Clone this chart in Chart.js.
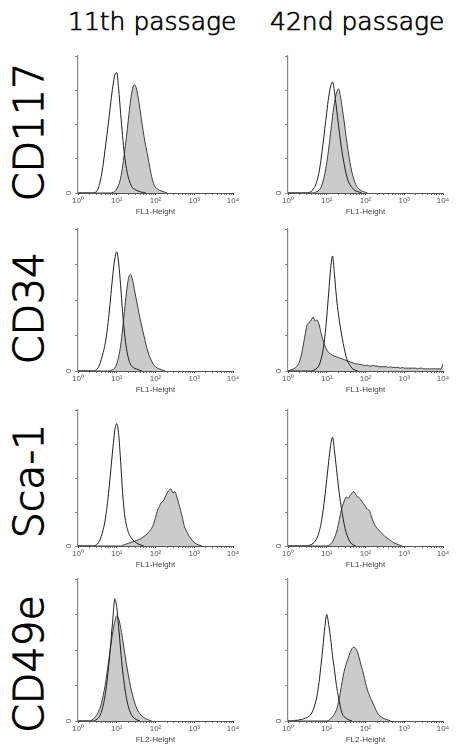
<!DOCTYPE html>
<html lang="en">
<head>
<meta charset="UTF-8">
<title>Flow cytometry - 11th vs 42nd passage</title>
<script src="https://cdn.jsdelivr.net/npm/chart.js"></script>
<style>
    body {
        margin: 0;
        background: #fff;
        width: 461px;
        height: 746px;
        position: relative;
        overflow: hidden;
        font-family: "DejaVu Sans", sans-serif;
    }
    .col-title {
        position: absolute;
        top: 9px;
        font-size: 25px;
        font-weight: 200;
        line-height: 1;
        color: #000;
        -webkit-text-stroke: 0.7px #000;
        white-space: nowrap;
    }
    .row-label {
        position: absolute;
        font-size: 41px;
        font-weight: 200;
        line-height: 1;
        color: #000;
        -webkit-text-stroke: 1.1px #000;
        white-space: nowrap;
        transform: translate(-50%, -50%) rotate(-90deg);
    }
    canvas { position: absolute; }
</style>
</head>
<body>
<script>
// fluorescence channels, 20 per decade (10^0 .. 10^4)
const CHANNELS = [
    1, 1.12, 1.26, 1.41, 1.58, 1.78, 2, 2.24, 2.51, 2.82, 3.16, 3.55, 3.98, 4.47, 5.01, 5.62, 6.31, 7.08, 7.94, 8.91,
    10, 11.2, 12.6, 14.1, 15.8, 17.8, 20, 22.4, 25.1, 28.2, 31.6, 35.5, 39.8, 44.7, 50.1, 56.2, 63.1, 70.8, 79.4, 89.1,
    100, 112, 126, 141, 158, 178, 200, 224, 251, 282, 316, 355, 398, 447, 501, 562, 631, 708, 794, 891,
    1000, 1122, 1259, 1413, 1585, 1778, 1995, 2239, 2512, 2818, 3162, 3548, 3981, 4467, 5012, 5623, 6310, 7079, 7943, 8913,
    10000
];
const DECADES = [1, 10, 100, 1000, 10000];
const DECADE_LABELS = ['10\u2070', '10\u00b9', '10\u00b2', '10\u00b3', '10\u2074'];
const PASSAGES = ['11th passage', '42nd passage'];
const MARKERS = ['CD117', 'CD34', 'Sca-1', 'CD49e'];
const X_TITLES = ['FL1-Height', 'FL1-Height', 'FL1-Height', 'FL2-Height'];

// counts (% of axis height) per channel; unfilled = control, filled = stained
const cd117_p11_control = [0,0,0,0,0,0,0,0,0,0.5, 2,6,12,21,32,43,55,67,78,86, 88,76,58,42,28,18,11,7,4,3, 2,1.5,1,0.5,0.5,0];
const cd117_p11_stained = [0,0,0,0,0,0,0,0,0,0, 0,0,0,0,0,0,0,0,0.5,1, 3,6,11,19,29,41,54,66,75,79, 77,70,61,51,42,34,27,19,12,7, 4,3,2,1.5,1,0.5,0];
const cd117_p42_control = [0,0,0,0,0,0,0,0,0,0, 0,0.5,1,3,5,9,15,24,35,47, 59,70,78,81,74,62,50,39,29,21, 14,9,6,4,2.5,1.5,1,0.5,0];
const cd117_p42_stained = [0,0,0,0,0,0,0,0,0,0, 0,0,0,0,0.5,1,2,4,8,14, 22,32,44,56,66,73,76,71,62,52, 41,31,22,15,10,6,4,2.5,1.5,1, 0.5,0];

const cd34_p11_control = [0,0,0,0,0,0,0,0,0,0.5, 1.5,4,8,13,19,28,40,54,68,79, 84,76,60,42,27,16,9,5,3,2, 1.5,1,0.5,0];
const cd34_p11_stained = [0,0,0,0,0,0,0,0,0,0, 0,0,0,0,0,0,0,0.5,1,2, 5,10,18,29,42,55,65,68,65,58, 51,44,37,31,25,19,14,10,7,4.5, 3,2,1.5,1,0.5,0];
const cd34_p42_control = [0,0,0,0,0,0,0,0,0,0, 0,0,0,0.5,1,2,4,8,14,24, 38,55,72,81,68,52,40,31,23,16, 10,6,4,2,1,0.5,0];
const cd34_p42_stained = [0,0.5,1,1.5,2.5,4,7,12,19,27, 33,34,36,38,35,36,33,27,22,18, 15,13,12,11,10.5,10,9.5,9,8.5,8,
    7.5,7,6.5,6,5.5,5,5,4.5,4.5,4, 4,4,3.5,3.5,4,3.5,3.5,3,3,3, 3,3,2.5,3,2.5,2.5,2.5,2.5,2,2.5,
    2,2,2,2,2,2,2,1.5,2,2, 1.5,1.5,1.5,1.5,1.5,1.5,1.5,1.5,1.5,1.5, 5];

const sca1_p11_control = [0,0,0,0,0,0,0,0,0,0.5, 1.5,3.5,7,12,19,29,42,57,72,85, 90,82,62,40,24,15,10,7,5,3.5, 2.5,1.5,1,0.5,0];
const sca1_p11_stained = [0,0,0,0,0,0,0,0,0,0, 0,0,0,0,0,0,0,0,0,0, 0,0,0,0.5,1,1.5,2,2.5,3,3.5,
    4,4.5,5,6,7,8,9.5,11,13,16, 21,26,29,32,33,36,39,41,42,39, 40,36,31,26,20,14,11,8,6,4, 2.5,1.5,1,0.5,0];
const sca1_p42_control = [0,0,0,0,0,0,0,0,0,0, 0,0.5,1,2,3.5,6,10,16,25,36, 49,62,74,80,70,57,44,33,24,16, 10,6,3,1.5,0.5,0];
const sca1_p42_stained = [0,0,0,0,0,0,0,0,0,0, 0,0,0,0,0,0,0,0,0,0, 0,0.5,1.5,3,6,10,16,23,29,33,
    36,35,37,39,40,38,36,35,33,31, 29,27,26,22,18,15,13,11.5,10,8.5, 7,6,5,4,3,2,1.5,1,0.5,0];

const cd49e_p11_control = [0,0,0,0,0,0,0,0,0,0.5, 1.5,3,6,11,18,28,41,56,72,86, 80,66,50,36,25,16,10,6,3.5,2, 1,0.5,0];
const cd49e_p11_stained = [0,0,0,0,0,0,0,0.5,1.5,3, 5,8,12,18,25,34,44,54,63,70, 74,72,66,58,49,40,32,25,19,14, 10,7,5,3.5,2.5,1.5,1,0.5,0];
const cd49e_p42_control = [0,0,0,0,0.5,0.5,1,1,1.5,2, 2.5,3.5,5,8,12,18,27,39,52,66, 75,68,58,46,36,25,17,10,5,3, 2,1,0.5,0];
const cd49e_p42_stained = [0,0,0,0,0,0,0,0,0,0, 0,0,0,0,0,0,0,0,0,0, 0,0.5,1.5,3,5,8,13,20,28,35,
    40,44,48,51,52,51,48,43,38,33, 27,22,18,15,12,9,6,4,3,2, 1.5,1,0.5,0];

const PANELS = [
    [cd117_p11_control, cd117_p11_stained, cd117_p42_control, cd117_p42_stained],
    [cd34_p11_control, cd34_p11_stained, cd34_p42_control, cd34_p42_stained],
    [sca1_p11_control, sca1_p11_stained, sca1_p42_control, sca1_p42_stained],
    [cd49e_p11_control, cd49e_p11_stained, cd49e_p42_control, cd49e_p42_stained]
];

// page layout (pixels): x of 10^0 / 10^4 per column, top / baseline per row
const COL_X = [[78, 233], [288, 443]];
const ROW_Y = [[56, 193], [229, 371], [410, 546], [579, 721]];
const TITLE_LEFT = [68, 270];
const LABEL_Y = [132, 308, 481, 664];
const Y_AXIS_W = 24, X_AXIS_H = 24, PAD_TOP = 10, PAD_RIGHT = 14;

const FILL_GRAY = '#cbcbcb';
const tickFont = { family: '"Liberation Sans", Arial, sans-serif', size: 8 };

const X_TICKS = [];
DECADES.forEach(d => {
    if (d === 10000) { X_TICKS.push(d); return; }
    for (let k = 1; k <= 9; k++) X_TICKS.push(k * d);
});

// rotated "0" next to the y axis
const zeroLabel = {
    id: 'zeroLabel',
    afterDraw(chart) {
        const ctx = chart.ctx;
        const y = chart.scales.y.getPixelForValue(0);
        ctx.save();
        ctx.translate(chart.chartArea.left - 9, y);
        ctx.rotate(-Math.PI / 2);
        ctx.font = '8px "Liberation Sans", Arial, sans-serif';
        ctx.fillStyle = '#555';
        ctx.textAlign = 'center';
        ctx.textBaseline = 'middle';
        ctx.fillText('0', 0, 0);
        ctx.restore();
    }
};

function toPoints(counts) {
    return counts.map((c, i) => ({ x: CHANNELS[i], y: c }));
}

function makePanel(row, col) {
    const [x0, x4] = COL_X[col];
    const [top, base] = ROW_Y[row];
    const canvas = document.createElement('canvas');
    const w = x4 - x0 + Y_AXIS_W + PAD_RIGHT;
    const h = base - top + PAD_TOP + X_AXIS_H;
    canvas.width = w;
    canvas.height = h;
    canvas.style.left = (x0 - Y_AXIS_W) + 'px';
    canvas.style.top = (top - PAD_TOP) + 'px';
    canvas.style.width = w + 'px';
    canvas.style.height = h + 'px';
    document.body.appendChild(canvas);

    const control = PANELS[row][col * 2];
    const stained = PANELS[row][col * 2 + 1];

    new Chart(canvas.getContext('2d'), {
        type: 'line',
        data: {
            datasets: [
                {
                    data: toPoints(control),
                    borderColor: '#1e1e1e',
                    borderWidth: 1,
                    pointRadius: 0,
                    fill: false,
                    cubicInterpolationMode: 'monotone'
                },
                {
                    data: toPoints(stained),
                    borderColor: '#3c3c3c',
                    borderWidth: 1,
                    backgroundColor: FILL_GRAY,
                    pointRadius: 0,
                    fill: 'origin',
                    cubicInterpolationMode: 'monotone'
                }
            ]
        },
        options: {
            responsive: false,
            animation: false,
            events: [],
            layout: { padding: { left: 0, top: PAD_TOP, right: PAD_RIGHT, bottom: 0 } },
            plugins: { legend: { display: false }, tooltip: { enabled: false } },
            scales: {
                x: {
                    type: 'logarithmic',
                    min: 1,
                    max: 10000,
                    afterBuildTicks: s => {
                        s.ticks = X_TICKS.map(v => ({ value: v, major: DECADES.includes(v) }));
                    },
                    afterFit: s => { s.height = X_AXIS_H; },
                    ticks: {
                        autoSkip: false,
                        maxRotation: 0,
                        minRotation: 0,
                        padding: 1,
                        font: tickFont,
                        color: '#555',
                        callback: v => {
                            const i = DECADES.indexOf(v);
                            return i >= 0 ? DECADE_LABELS[i] : '';
                        }
                    },
                    grid: {
                        drawOnChartArea: false,
                        tickLength: 2,
                        color: c => (c.tick && c.tick.major) ? '#333' : '#777'
                    },
                    border: { color: '#555', width: 1 },
                    title: {
                        display: true,
                        text: X_TITLES[row],
                        font: tickFont,
                        color: '#444',
                        padding: { top: 0, bottom: 0 }
                    }
                },
                y: {
                    min: 0,
                    max: 100,
                    afterFit: s => { s.width = Y_AXIS_W; },
                    ticks: { display: false, stepSize: 25 },
                    grid: { drawOnChartArea: false, tickLength: 3, color: '#888' },
                    border: { color: '#888', width: 1.2 }
                }
            }
        },
        plugins: [zeroLabel]
    });
}

PASSAGES.forEach((t, col) => {
    const d = document.createElement('div');
    d.className = 'col-title';
    d.style.left = TITLE_LEFT[col] + 'px';
    d.textContent = t;
    document.body.appendChild(d);
});

MARKERS.forEach((m, row) => {
    const d = document.createElement('div');
    d.className = 'row-label';
    d.style.left = '29px';
    d.style.top = LABEL_Y[row] + 'px';
    d.textContent = m;
    document.body.appendChild(d);
    makePanel(row, 0);
    makePanel(row, 1);
});
</script>
</body>
</html>
